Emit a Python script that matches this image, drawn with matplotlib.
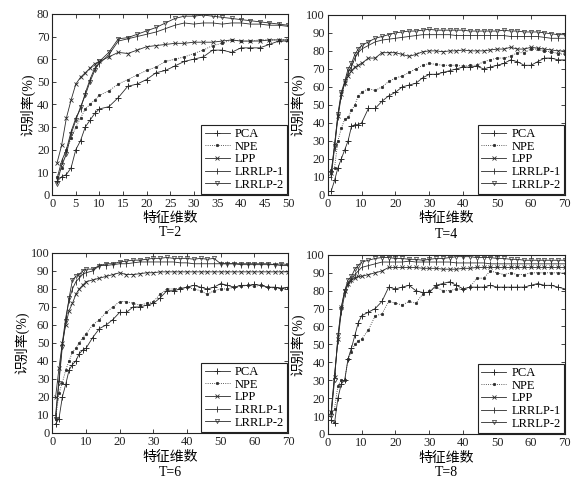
import numpy as np
import matplotlib
matplotlib.use('Agg')
import matplotlib.pyplot as plt

plt.rcParams['font.family'] = ['Liberation Serif', 'Noto Sans CJK SC']
plt.rcParams['axes.unicode_minus'] = False

### data: recognition rate (%) vs. feature dimension
early = list(range(1, 11))
x_t2 = early + list(range(12, 51, 2))
x_t70 = early + list(range(12, 71, 2))

names = ['PCA', 'NPE', 'LPP', 'LRRLP-1', 'LRRLP-2']

# T=2
pca_t2 = [6, 8, 9, 12, 20, 24, 30, 33, 36, 38,
          39, 43, 48, 49, 51, 54, 55, 57, 59, 60, 61, 64, 64, 63, 65, 65, 65, 66.5, 68, 68]
npe_t2 = [8, 12, 20, 25, 30, 34, 38, 40, 42, 44,
          46, 49, 51, 53, 55, 56.5, 59, 60, 61, 62.5, 64, 66, 67, 68.5, 68, 68, 68.5, 68.5, 68.5, 68.5]
lpp_t2 = [14, 22, 34, 42, 49, 52, 54, 56, 58, 59,
          61, 63, 62.5, 64, 65.5, 66, 66.5, 67, 67, 67.5, 67.5, 67.5, 68, 68.5, 68, 68, 68, 68.5, 68.5, 68.5]
lr1_t2 = [7, 15, 20, 28, 34, 38, 45, 51, 56, 58,
          62, 68, 69, 70, 71, 72, 73.5, 75, 76, 75.5, 76, 76, 75.5, 76, 76, 75.5, 75.5, 75, 75, 74.5]
lr2_t2 = [5, 13, 18, 27, 33, 39, 44, 50, 55, 59,
          63, 69, 69.5, 71, 72.5, 74, 76, 78, 79, 79, 79.5, 79, 78.5, 78, 77.5, 77, 76.5, 76, 75.5, 75]

# T=4
pca_t4 = [2, 8, 15, 20, 25, 30, 38, 39, 39, 40,
          48, 48, 52, 55, 57, 60, 61, 62, 65, 67, 67, 68, 69, 70, 71,
          71, 71.5, 70, 71, 72, 73, 75, 74, 72, 72, 74, 76, 76, 75, 75]
npe_t4 = [14, 15, 30, 37, 42, 43, 47, 50, 55, 57,
          59, 58, 60, 63, 65, 66, 68, 70, 72, 73, 72.5, 72, 72, 72, 71.5,
          72, 72, 74, 75, 76, 76, 77, 79, 79, 81, 81, 80, 79.5, 78.5, 78]
lpp_t4 = [12, 28, 44, 56, 62, 66, 69, 71, 72, 73,
          76, 76, 79, 79, 79, 78, 77, 78, 79.5, 80, 80, 79.5, 80, 80, 80.5,
          80, 80, 80, 80.5, 81, 81, 82, 81, 81, 82, 81.5, 81, 80.5, 80, 80]
lr1_t4 = [10, 26, 43, 55, 62, 68, 71, 76, 79, 81,
          83, 85, 86, 86.5, 87, 87.5, 88, 88.5, 89, 89, 89, 89, 89, 88.5, 88.5,
          88.5, 88.5, 88.5, 88.5, 88.5, 88.5, 88, 88, 88, 88, 88, 87.5, 87, 87, 87]
lr2_t4 = [12, 27, 45, 57, 63, 70, 73, 78, 81, 83,
          85, 87, 88, 89, 90, 90.5, 91, 91, 91.5, 92, 91.5, 91.5, 91.5, 91.5, 91.5,
          91, 91, 91, 91, 91, 91.5, 91, 91, 90.5, 90.5, 90.5, 90, 89.5, 89, 89]

# T=6
pca_t6 = [5, 8, 20, 27, 35, 38, 40, 44, 46, 47,
          53, 58, 60, 63, 67, 67, 70, 70, 71, 72, 75, 79, 79, 80, 81,
          82, 81, 80, 81, 83, 82, 81, 82, 82, 82.5, 82, 81, 81, 80.5, 81]
npe_t6 = [8, 22, 28, 35, 40, 45, 47, 50, 53, 55,
          60, 63, 67, 70, 73, 73, 72, 71, 72, 73, 77, 80, 80, 80.5, 81,
          80, 79, 77, 79, 80, 80, 81, 81.5, 82, 81.5, 82, 81, 80.5, 80, 80.5]
lpp_t6 = [20, 36, 50, 60, 68, 72, 77, 80, 82, 84,
          85, 86, 87, 88, 89, 88, 88, 88.5, 89, 89, 89.5, 89.5, 89.5, 89.5, 89.5,
          89.5, 89.5, 89.5, 89.5, 89.5, 89.5, 89.5, 89.5, 89.5, 89.5, 89.5, 89.5, 89.5, 89.5, 89.5]
lr1_t6 = [10, 30, 50, 64, 74, 80, 84, 86, 88, 89,
          90, 93, 93, 93.5, 94, 94, 94.5, 95, 95, 95, 95, 95, 95, 94.5, 94.5,
          94, 94, 94, 94, 94, 94, 94, 93.5, 93.5, 93.5, 93.5, 93.5, 93.5, 93, 93]
lr2_t6 = [8, 28, 48, 62, 75, 85, 87, 88, 90, 91,
          91, 93, 94, 94, 95, 95.5, 96, 96, 96.5, 97, 97, 97.5, 97, 97, 97,
          96.5, 97, 96.5, 97, 94, 94, 94, 94, 94, 94, 94, 94, 93.5, 94, 93.5]

# T=8
pca_t8 = [8, 6, 20, 28, 30, 42, 48, 55, 62, 66,
          68, 70, 74, 82, 81, 82, 83, 80, 79, 79, 83, 84, 85, 83, 81,
          82, 82, 82, 83, 82, 82, 82, 82, 82, 83, 84, 83, 83, 82, 81]
npe_t8 = [12, 14, 27, 30, 30, 42, 46, 50, 52, 53,
          58, 66, 67, 74, 73, 72, 74, 73, 78, 80, 82, 80, 80, 81, 81,
          82, 87, 87, 91, 90, 89, 90, 89, 89, 90, 90, 90, 90, 90, 90]
lpp_t8 = [12, 32, 53, 71, 80, 84, 86, 87, 88, 88,
          89, 90, 91, 93, 93, 93, 93, 93, 92.5, 92.5, 92.5, 92, 92, 92, 92.5,
          92.5, 93, 93, 93, 93, 93, 93, 93, 93, 93, 93, 93, 93, 93, 93]
lr1_t8 = [12, 33, 52, 68, 78, 84, 86, 89, 91, 93,
          94, 95, 96, 96, 96, 96, 96.5, 96, 96, 96, 96, 96, 96, 95.5, 95.5,
          95.5, 95.5, 95.5, 95, 95, 95, 95, 95, 95, 95, 95, 95, 95, 95, 95]
lr2_t8 = [10, 30, 55, 70, 80, 86, 88, 92, 94, 96,
          97, 98, 98.5, 98.5, 98, 98, 97.5, 97.5, 97, 97.5, 98, 98, 98.5, 99, 99,
          99, 98.5, 98.5, 98.5, 98, 98, 97.5, 97.5, 97, 97, 97, 97, 97, 97, 97]

panels = [
    (x_t2, [pca_t2, npe_t2, lpp_t2, lr1_t2, lr2_t2], 50, 5, 80, 10, 'T=2'),
    (x_t70, [pca_t4, npe_t4, lpp_t4, lr1_t4, lr2_t4], 70, 10, 100, 10, 'T=4'),
    (x_t70, [pca_t6, npe_t6, lpp_t6, lr1_t6, lr2_t6], 70, 10, 100, 10, 'T=6'),
    (x_t70, [pca_t8, npe_t8, lpp_t8, lr1_t8, lr2_t8], 70, 10, 100, 10, 'T=8'),
]

# axes rectangles (left, bottom, width, height) in figure fractions
rects = [
    [0.091, 0.594, 0.411, 0.377],
    [0.571, 0.594, 0.413, 0.375],
    [0.091, 0.098, 0.411, 0.375],
    [0.571, 0.096, 0.413, 0.373],
]
# vertical position of the "T=..." caption (figure fraction, text centre)
title_y = [1 - 232 / 480, 1 - 234 / 480, 1 - 472 / 480, 1 - 472 / 480]

styles = [
    dict(marker='+', ms=4, mew=0.7),
    dict(marker='.', ms=3.5, mew=0.5, ls=':'),
    dict(marker='x', ms=2.5, mew=0.6),
    dict(marker='|', ms=4, mew=0.6),
    dict(marker='v', ms=3, mew=0.5, mfc='none'),
]

col = '#2a2a2a'
fig = plt.figure(figsize=(5.74, 4.8), dpi=100)

for (x, series, xmax, xstep, ymax, ystep, title), rect, ty in zip(panels, rects, title_y):
    ax = fig.add_axes(rect)
    for name, y, st in zip(names, series, styles):
        st = dict(st)
        ls = st.pop('ls', '-')
        ax.plot(x, y, color=col, lw=0.6, ls=ls, label=name, **st)
    ax.set_xlim(0, xmax)
    ax.set_ylim(0, ymax)
    ax.set_xticks(np.arange(0, xmax + 1, xstep))
    ax.set_yticks(np.arange(0, ymax + 1, ystep))
    ax.tick_params(direction='in', top=True, right=True, length=3,
                   labelsize=9, pad=2, width=0.6, colors='#222222')
    for sp in ax.spines.values():
        sp.set_linewidth(0.8)
        sp.set_color('#222222')
    ax.set_xlabel('特征维数', fontsize=10, labelpad=2)
    ax.set_ylabel('识别率(%)', fontsize=10, labelpad=1)
    leg = ax.legend(loc='lower right', fontsize=9, frameon=True, fancybox=False,
                    edgecolor='#222222', framealpha=1, handlelength=2.0,
                    labelspacing=0.05, borderpad=0.25, borderaxespad=0.1,
                    handletextpad=0.4)
    leg.get_frame().set_linewidth(0.8)
    fig.text(rect[0] + rect[2] / 2, ty, title, ha='center',
             va='center', fontsize=10)

fig.savefig('out.png', dpi=100)
